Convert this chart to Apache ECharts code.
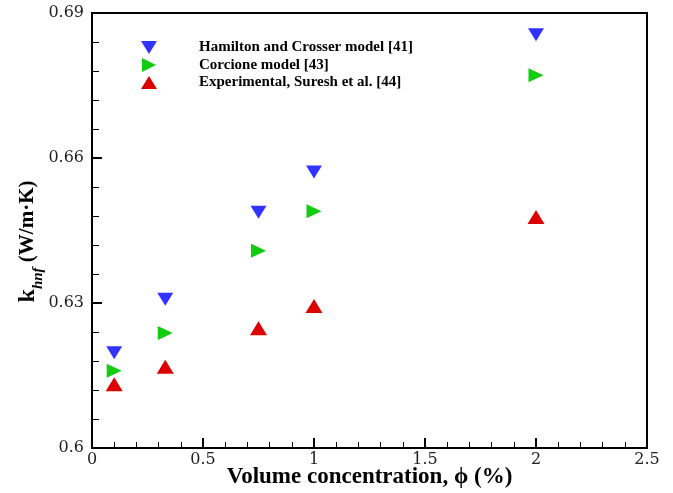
<!DOCTYPE html>
<html>
<head>
<meta charset="utf-8">
<script src="https://cdn.jsdelivr.net/npm/echarts@6/dist/echarts.min.js"></script>
<style>
html, body { margin: 0; padding: 0; background: #fff; }
#main { width: 673px; height: 493px; }
</style>
</head>
<body>
<div id="main"></div>
<script>
// volume concentration (%)
var phi = [0.1, 0.33, 0.75, 1.0, 2.0];
// thermal conductivity k_hnf (W/m.K)
var hamilton = [0.6197, 0.6308, 0.6488, 0.6571, 0.6855];
var corcione = [0.6160, 0.6238, 0.6408, 0.6490, 0.6771];
var suresh = [0.6132, 0.6168, 0.6248, 0.6294, 0.6478];
var seriesNames = ['Hamilton and Crosser model [41]', 'Corcione model [43]', 'Experimental, Suresh et al. [44]'];
var xTicks = ['0', '0.5', '1', '1.5', '2', '2.5'];
var yTicks = ['0.6', '0.63', '0.66', '0.69'];

var serif = 'Liberation Serif';
var tickFont = 'DejaVu Serif';
var colors = ['#3333ff', '#11cc11', '#dd0000'];
var rots = [180, -90, 0];
// legend icons (rotation is not carried over to the legend)
var icons = ['path://M0,0 L16,0 L8,13 Z', 'path://M0,0 L14,7 L0,14 Z', 'path://M8,0 L16,13 L0,13 Z'];

function pairs(xs, ys) {
	var out = [];
	for (var i = 0; i < xs.length; i++) out.push([xs[i], ys[i]]);
	return out;
}

function scatter(i, ys, size) {
	return {
		name : seriesNames[i],
		type : 'scatter',
		data : pairs(phi, ys),
		symbol : 'triangle',
		symbolRotate : rots[i],
		symbolSize : size,
		itemStyle : { color : colors[i], opacity : 1 }
	};
}

var legendData = seriesNames.map(function(n, i) {
	return { name : n, icon : icons[i] };
});

var myChart = echarts.init(document.getElementById('main'));

var option = {
	backgroundColor : '#fff',
	animation : false,
	grid : {
		left : 92, right : 26, top : 13, bottom : 45,
		outerBoundsMode : 'none', containLabel : false,
		show : true, borderColor : '#000', borderWidth : 2
	},
	legend : {
		orient : 'vertical',
		left : 136, top : 35,
		itemWidth : 16, itemHeight : 14, itemGap : 2.5,
		data : legendData,
		textStyle : {
			fontFamily : serif, fontWeight : 'bold', fontSize : 15, lineHeight : 14, color : '#000',
			padding : [0, 0, 0, 37]
		}
	},
	xAxis : {
		type : 'value',
		min : 0, max : 2.5, interval : 0.5,
		name : 'Volume concentration, \u03d5 (%)',
		nameLocation : 'middle', nameGap : 18, nameMoveOverlap : false,
		nameTextStyle : { fontFamily : serif, fontWeight : 'bold', fontSize : 23, color : '#000' },
		axisLine : { lineStyle : { color : '#000', width : 2 } },
		axisTick : { inside : true, length : 10, lineStyle : { color : '#000', width : 2 } },
		minorTick : { show : true, splitNumber : 5, length : 6, lineStyle : { color : '#000', width : 1 } },
		splitLine : { show : false },
		axisLabel : {
			fontFamily : tickFont, fontSize : 16, color : '#222', margin : 4,
			formatter : function(v) { return xTicks[Math.round(v / 0.5)]; }
		}
	},
	yAxis : {
		type : 'value',
		min : 0.6, max : 0.69, interval : 0.03,
		name : '{k|k}{s|hnf}{u| (W/m\u00b7K)}',
		nameLocation : 'middle', nameGap : 46, nameRotate : 90, nameMoveOverlap : false,
		nameTextStyle : {
			rich : {
				k : { fontFamily : serif, fontWeight : 'bold', fontSize : 24, color : '#000', lineHeight : 36, verticalAlign : 'middle' },
				s : { fontFamily : serif, fontWeight : 'bold', fontStyle : 'italic', fontSize : 15, color : '#000', lineHeight : 36, verticalAlign : 'bottom' },
				u : { fontFamily : serif, fontWeight : 'bold', fontSize : 21, color : '#000', lineHeight : 36, verticalAlign : 'middle', padding : [0, 22, 0, 0] }
			}
		},
		axisLine : { lineStyle : { color : '#000', width : 2 } },
		axisTick : { inside : true, length : 10, lineStyle : { color : '#000', width : 2 } },
		minorTick : { show : true, splitNumber : 5, length : 7, lineStyle : { color : '#000', width : 1 } },
		splitLine : { show : false },
		axisLabel : {
			fontFamily : tickFont, fontSize : 16, color : '#222', margin : 8,
			formatter : function(v) { return yTicks[Math.round((v - 0.6) / 0.03)]; }
		}
	},
	series : [
		scatter(0, hamilton, [16, 13]),
		scatter(1, corcione, [14, 15]),
		scatter(2, suresh, [17, 14])
	]
};

myChart.setOption(option);
</script>
</body>
</html>
